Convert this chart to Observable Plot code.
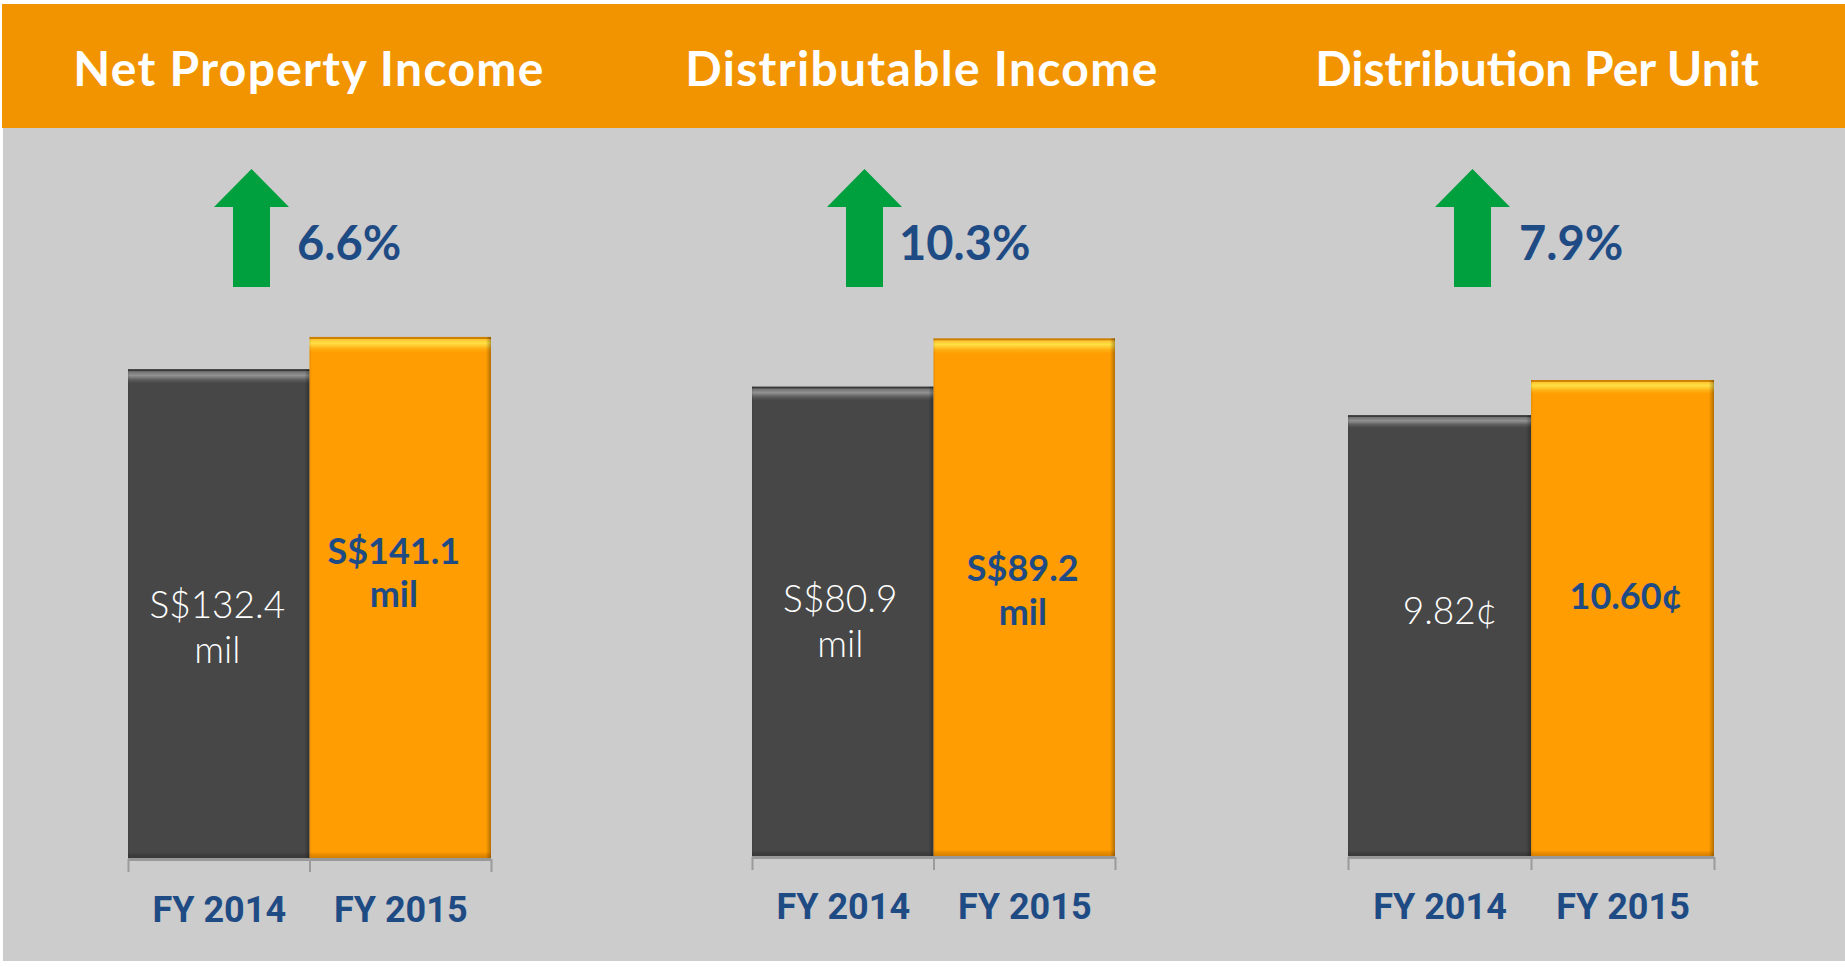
<!DOCTYPE html>
<html><head><meta charset="utf-8">
<script src="https://cdn.jsdelivr.net/npm/d3@7"></script>
<script src="https://cdn.jsdelivr.net/npm/@observablehq/plot@0.6"></script>
<style>
body{margin:0;width:1845px;height:967px;position:relative;overflow:hidden;background:#fff}
#bg{position:absolute;left:3px;top:4px;width:1842px;height:957px;background:#cccccc}
#hdr{position:absolute;left:2px;top:4px;width:1843px;height:124px;background:#f29400}
.panel{position:absolute;top:130px}
#overlay{position:absolute;left:0;top:0}
</style>
</head><body>
<div id="bg"></div><div id="hdr"></div>
<svg width="0" height="0" style="position:absolute">
<defs>
<linearGradient id="bar2014" x1="0" y1="0" x2="0" y2="1">
<stop offset="0" stop-color="#383838"/><stop offset="0.003" stop-color="#383838"/>
<stop offset="0.005" stop-color="#727272"/><stop offset="0.013" stop-color="#929292"/>
<stop offset="0.022" stop-color="#5c5c5c"/><stop offset="0.029" stop-color="#474747"/>
<stop offset="0.986" stop-color="#474747"/><stop offset="0.992" stop-color="#3d3d3d"/>
<stop offset="1" stop-color="#383838"/>
</linearGradient>
<linearGradient id="bar2015" x1="0" y1="0" x2="0" y2="1">
<stop offset="0" stop-color="#cf8000"/><stop offset="0.003" stop-color="#cf8000"/>
<stop offset="0.005" stop-color="#ffc630"/><stop offset="0.012" stop-color="#ffe046"/>
<stop offset="0.022" stop-color="#ffb014"/><stop offset="0.029" stop-color="#ff9d02"/>
<stop offset="0.986" stop-color="#ff9d02"/><stop offset="0.992" stop-color="#e88a00"/>
<stop offset="1" stop-color="#cf7c00"/>
</linearGradient>
<linearGradient id="shadeh" x1="0" y1="0" x2="1" y2="0">
<stop offset="0" stop-color="#000" stop-opacity="0.10"/><stop offset="0.012" stop-color="#000" stop-opacity="0"/>
<stop offset="0.972" stop-color="#000" stop-opacity="0"/><stop offset="1" stop-color="#000" stop-opacity="0.3"/>
</linearGradient>
</defs></svg>
<svg id="overlay" width="1845" height="967"></svg>
<script>
// ---- data ----
const years = ["FY 2014", "FY 2015"];
const titles = ["Net Property Income", "Distributable Income", "Distribution Per Unit"];
const npi = [132.4, 141.1];
const di = [80.9, 89.2];
const dpu = [9.82, 10.60];
const npiLabels = ["S$132.4\nmil", "S$141.1\nmil"];
const diLabels = ["S$80.9\nmil", "S$89.2\nmil"];
const dpuLabels = ["9.82¢", "10.60¢"];
const growth = ["6.6%", "10.3%", "7.9%"];

// ---- layout ----
const blue = "#1f4b85";
const svgTop = 130, svgBottom = 960, m = 20;
const panels = [
  {values: npi, labels: npiLabels, left: 128, width: 363, bottom: 859, ymax: 160, top: 267,
   dx: [-2, -7], dy: [216, 196], fyDy: 37, titleX: 309, titleLs: 1.3, arrowX: 251.5, pctX: 297},
  {values: di, labels: diLabels, left: 752, width: 363, bottom: 857, ymax: 100, top: 275.5,
   dx: [-3, -2], dy: [193, 212], fyDy: 36, titleX: 922, titleLs: 1.3, arrowX: 864.5, pctX: 899},
  {values: dpu, labels: dpuLabels, left: 1348, width: 366, bottom: 857, ymax: 12, top: 317,
   dx: [10, 3], dy: [176, 198], fyDy: 36, titleX: 1537, titleLs: 0, arrowX: 1472.5, pctX: 1519}
];

panels.forEach((p, pi) => {
  const rows = years.map((year, i) => ({year, i, value: p.values[i], label: p.labels[i]}));
  const chart = Plot.plot({
    width: p.width + 2 * m,
    height: svgBottom - svgTop,
    marginLeft: m, marginRight: m,
    marginTop: p.top - svgTop,
    marginBottom: svgBottom - p.bottom,
    style: {background: "transparent", overflow: "visible", maxWidth: "none"},
    x: {domain: [0, 2], axis: null},
    y: {domain: [0, p.ymax], axis: null},
    color: {domain: years, range: ["url(#bar2014)", "url(#bar2015)"]},
    marks: [
      Plot.rectY(rows, {x1: "i", x2: d => d.i + 1, y: "value", fill: "year"}),
      Plot.rectY(rows, {x1: "i", x2: d => d.i + 1, y: "value", fill: "url(#shadeh)"}),
      Plot.ruleY([0], {stroke: "#999999", strokeWidth: 3}),
      Plot.axisX({ticks: [0, 1, 2], tickSize: 13, tickFormat: () => "", stroke: "#9b9b9b", strokeWidth: 2, label: null}),
      Plot.text(rows, {x: d => d.i + 0.5, y: 0, text: "year", dy: p.fyDy, lineAnchor: "top",
        fill: blue, fontFamily: "Roboto", fontWeight: 700, fontSize: 36}),
      Plot.text(rows.filter(d => d.i === 0), {x: d => d.i + 0.5, y: "value", text: "label",
        dx: p.dx[0], dy: p.dy[0], lineAnchor: "top", lineHeight: 1.22,
        fill: "#ffffff", fontFamily: "Lato", fontWeight: 300, fontSize: 37}),
      Plot.text(rows.filter(d => d.i === 1), {x: d => d.i + 0.5, y: "value", text: "label",
        dx: p.dx[1], dy: p.dy[1], lineAnchor: "top", lineHeight: 1.2,
        fill: blue, fontFamily: "Lato", fontWeight: 700, fontSize: 36})
    ]
  });
  chart.classList.add("panel");
  chart.style.position = "absolute";
  chart.style.left = (p.left - m) + "px";
  chart.style.top = svgTop + "px";
  document.body.appendChild(chart);
});

// ---- header titles, growth arrows and percentages ----
const ov = d3.select("#overlay");
panels.forEach((p, pi) => {
  ov.append("text").attr("x", p.titleX).attr("y", 86).attr("text-anchor", "middle")
    .attr("fill", "#ffffff").attr("font-family", "Lato").attr("font-weight", 700)
    .attr("letter-spacing", p.titleLs).attr("font-size", 48).text(titles[pi]);
  const cx = p.arrowX, tip = 169, hb = 207, bot = 287, hw = 37.5, sw = 18.5;
  ov.append("polygon")
    .attr("points", [[cx, tip], [cx + hw, hb], [cx + sw, hb], [cx + sw, bot], [cx - sw, bot], [cx - sw, hb], [cx - hw, hb]].join(" "))
    .attr("fill", "#00a03e");
  ov.append("text").attr("x", p.pctX).attr("y", 260).attr("fill", blue)
    .attr("font-family", "Lato").attr("font-weight", 700).attr("font-size", 47).text(growth[pi]);
});
</script>
</body></html>
